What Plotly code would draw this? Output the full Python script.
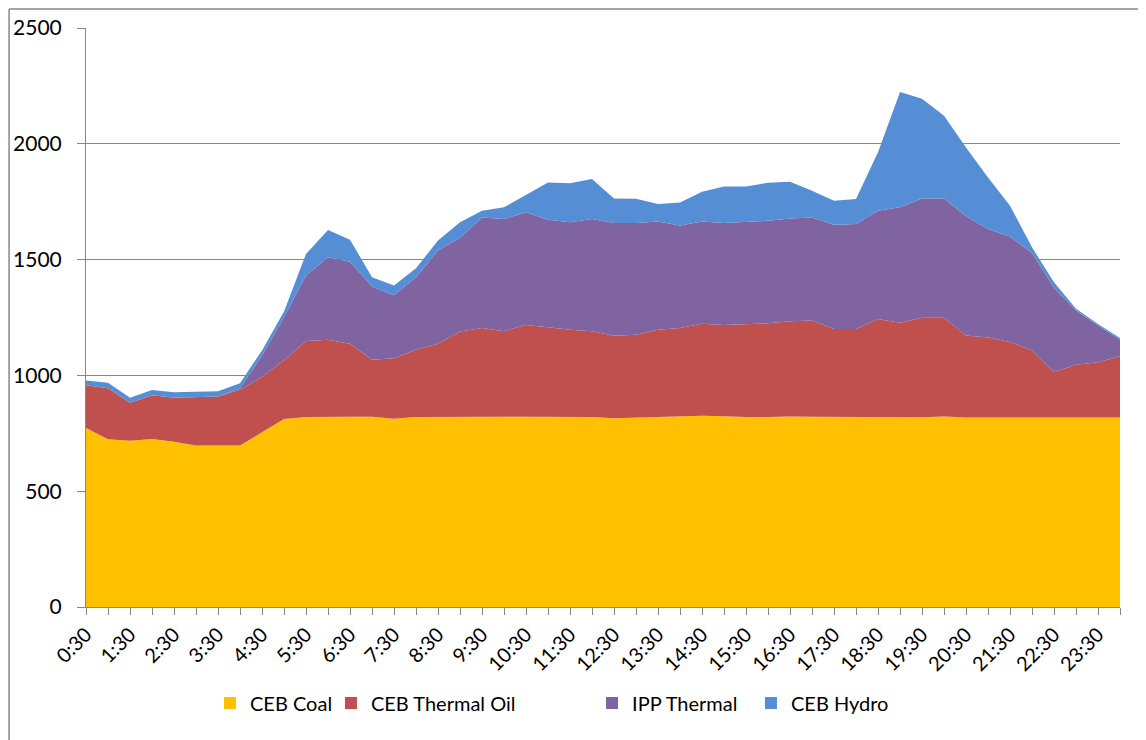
import plotly.graph_objects as go

# categories: half-hour slots 0:30 ... 24:00
times = ["0:30", "1:00", "1:30", "2:00", "2:30", "3:00", "3:30", "4:00", "4:30", "5:00",
         "5:30", "6:00", "6:30", "7:00", "7:30", "8:00", "8:30", "9:00", "9:30", "10:00",
         "10:30", "11:00", "11:30", "12:00", "12:30", "13:00", "13:30", "14:00", "14:30", "15:00",
         "15:30", "16:00", "16:30", "17:00", "17:30", "18:00", "18:30", "19:00", "19:30", "20:00",
         "20:30", "21:00", "21:30", "22:00", "22:30", "23:00", "23:30", "24:00"]

ceb_coal = [773, 724, 718, 725, 714, 697, 697, 697, 754, 812,
            820, 822, 821, 821, 813, 820, 821, 821, 821, 821,
            821, 821, 821, 820, 815, 818, 820, 821, 826, 824,
            820, 820, 823, 821, 820, 820, 821, 820, 819, 823,
            818, 818, 818, 818, 818, 818, 818, 818]

ceb_thermal_oil = [184, 221, 164, 189, 190, 210, 212, 241, 239, 253,
                   328, 332, 316, 247, 261, 291, 316, 369, 384, 370,
                   397, 387, 376, 371, 356, 357, 377, 384, 397, 394,
                   400, 405, 411, 416, 380, 380, 423, 407, 430, 426,
                   354, 346, 326, 290, 196, 228, 239, 265]

ipp_thermal = [0, 0, 0, 0, 0, 0, 0, 6, 93, 186,
               283, 356, 354, 316, 272, 313, 402, 404, 477, 484,
               486, 464, 464, 484, 487, 483, 467, 442, 442, 440,
               444, 443, 444, 445, 450, 454, 467, 499, 515, 515,
               515, 468, 456, 421, 364, 234, 159, 71]

ceb_hydro = [21, 23, 22, 23, 23, 24, 23, 22, 22, 25,
             93, 118, 95, 40, 42, 39, 43, 67, 29, 51,
             74, 161, 169, 173, 106, 105, 76, 100, 128, 158,
             152, 164, 158, 115, 104, 108, 252, 498, 431, 357,
             297, 223, 133, 24, 24, 8, 6, 7]

series_names = ["CEB Coal", "CEB Thermal Oil", "IPP Thermal", "CEB Hydro"]
colors = ["#FFC000", "#C0504D", "#8064A2", "#558ED5"]
series = [ceb_coal, ceb_thermal_oil, ipp_thermal, ceb_hydro]

fig = go.Figure()
for name, vals, col in zip(series_names, series, colors):
    fig.add_trace(go.Scatter(
        x=times, y=vals, name=name, mode="lines", stackgroup="one",
        line=dict(width=0, color=col), fillcolor=col, showlegend=False,
        hoverinfo="x+y+name"))

# legend entries with square swatches, one legend box per entry
legend_ids = ["legend", "legend2", "legend3", "legend4"]
legend_x = [0.1199, 0.2369, 0.4894, 0.6431]
for name, col, lid in zip(series_names, colors, legend_ids):
    fig.add_trace(go.Scatter(
        x=[None], y=[None], mode="markers", name=name, legend=lid,
        marker=dict(symbol="square", size=12, color=col)))

tick_text = [t if i % 2 == 0 else "" for i, t in enumerate(times)]

font_family = "Lato, Carlito, Calibri, sans-serif"
grid_col = "#878787"

legend_common = dict(orientation="h", xanchor="left", y=-0.166, yanchor="middle",
                     font=dict(size=20), itemwidth=30, bgcolor="rgba(0,0,0,0)",
                     borderwidth=0)

layout_legends = {}
for lid, lx in zip(legend_ids, legend_x):
    layout_legends[lid] = dict(legend_common, x=lx)

fig.update_layout(
    width=1138, height=732,
    margin=dict(l=78, r=26, t=20, b=133, autoexpand=False),
    paper_bgcolor="white", plot_bgcolor="white",
    font=dict(family=font_family, size=20, color="black"),
    showlegend=True,
    xaxis=dict(type="category", range=[0, len(times) - 1], tickmode="array",
               tickvals=times, ticktext=tick_text, tickangle=-45,
               ticks="outside", ticklen=7, tickcolor=grid_col,
               showline=True, linecolor=grid_col, linewidth=1, automargin=False,
               showgrid=False, zeroline=False, tickfont=dict(size=20)),
    yaxis=dict(range=[0, 2500], dtick=500, tickmode="linear", tick0=0,
               ticks="outside", ticklen=8, tickcolor=grid_col,
               showline=True, linecolor=grid_col, linewidth=1, automargin=False,
               showgrid=True, gridcolor=grid_col, gridwidth=1,
               zeroline=False, tickfont=dict(size=21), ticklabelstandoff=11),
    shapes=[
        dict(type="line", xref="paper", yref="paper", x0=-0.0744, x1=1.03,
             y0=1.033, y1=1.033, line=dict(color=grid_col, width=1.5)),
        dict(type="line", xref="paper", yref="paper", x0=-0.0744, x1=-0.0744,
             y0=-0.23, y1=1.033, line=dict(color=grid_col, width=1.5)),
    ],
    **layout_legends,
)

fig.write_html("out.html")
